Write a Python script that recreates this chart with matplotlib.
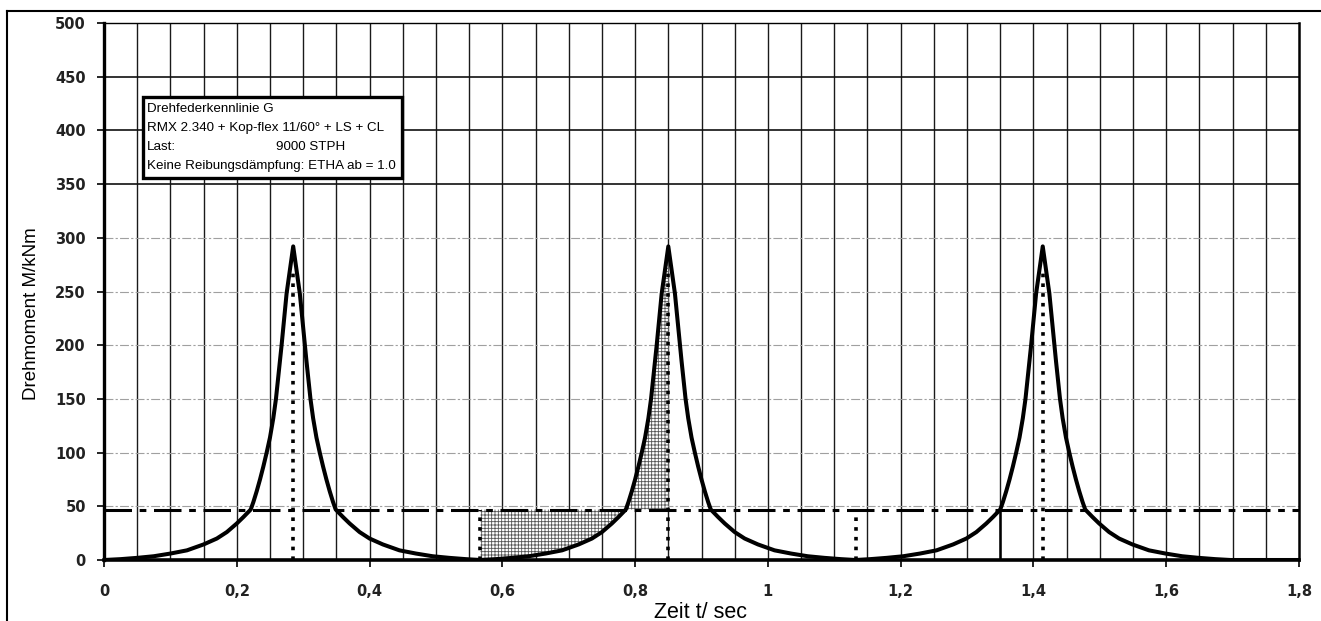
import matplotlib
matplotlib.use("Agg")
import matplotlib.pyplot as plt
from matplotlib.lines import Line2D
from matplotlib.patches import Rectangle
import numpy as np

# ---------------- data ----------------
t_pulse1 = [0.000, 0.025, 0.050, 0.075, 0.100, 0.125, 0.150, 0.170, 0.185, 0.200, 0.210, 0.221,
            0.225, 0.230, 0.235, 0.240, 0.245, 0.250, 0.255, 0.259, 0.265, 0.2675, 0.270,
            0.275, 0.280, 0.285,
            0.290, 0.295, 0.300, 0.3025, 0.305, 0.311, 0.315, 0.320, 0.325, 0.330, 0.335,
            0.340, 0.345, 0.349, 0.360, 0.370, 0.385, 0.400, 0.420, 0.445, 0.470, 0.495,
            0.520, 0.545]
m_pulse1 = [0, 0.8, 2, 3.5, 6, 9, 14.5, 20, 26, 34, 40, 47,
            54, 64, 75, 87, 100, 114, 132, 150, 185, 200, 216,
            248, 270, 292,
            270, 248, 216, 200, 185, 150, 132, 114, 100, 87, 75,
            64, 54, 47, 40, 34, 26, 20, 14.5, 9, 6, 3.5,
            2, 0.8]
t_pulse2 = [0.567, 0.590, 0.615, 0.640, 0.665, 0.690, 0.715, 0.735, 0.750, 0.765, 0.775, 0.786,
            0.790, 0.795, 0.800, 0.805, 0.810, 0.815, 0.820, 0.824, 0.830, 0.8325, 0.835,
            0.840, 0.845, 0.850,
            0.855, 0.860, 0.865, 0.8675, 0.870, 0.876, 0.880, 0.885, 0.890, 0.895, 0.900,
            0.905, 0.910, 0.914, 0.925, 0.935, 0.950, 0.965, 0.985, 1.010, 1.035, 1.060,
            1.085, 1.110]
m_pulse2 = [0, 0.8, 2, 3.5, 6, 9, 14.5, 20, 26, 34, 40, 47,
            54, 64, 75, 87, 100, 114, 132, 150, 185, 200, 216,
            248, 270, 292,
            270, 248, 216, 200, 185, 150, 132, 114, 100, 87, 75,
            64, 54, 47, 40, 34, 26, 20, 14.5, 9, 6, 3.5,
            2, 0.8]
t_pulse3 = [1.132, 1.154, 1.179, 1.204, 1.229, 1.254, 1.279, 1.299, 1.314, 1.329, 1.339, 1.350,
            1.354, 1.359, 1.364, 1.369, 1.374, 1.379, 1.384, 1.388, 1.394, 1.3965, 1.399,
            1.404, 1.409, 1.414,
            1.419, 1.424, 1.429, 1.4315, 1.434, 1.440, 1.444, 1.449, 1.454, 1.459, 1.464,
            1.469, 1.474, 1.478, 1.489, 1.499, 1.514, 1.529, 1.549, 1.574, 1.599, 1.624,
            1.649, 1.674, 1.697, 1.800]
m_pulse3 = [0, 0.8, 2, 3.5, 6, 9, 14.5, 20, 26, 34, 40, 47,
            54, 64, 75, 87, 100, 114, 132, 150, 185, 200, 216,
            248, 270, 292,
            270, 248, 216, 200, 185, 150, 132, 114, 100, 87, 75,
            64, 54, 47, 40, 34, 26, 20, 14.5, 9, 6, 3.5,
            2, 0.8, 0, 0]

threshold = 47                      # dash-dot level
peak_times = [0.285, 0.850, 1.414]  # dotted verticals up to the peaks
peak_marker_height = 272
mid_times = [0.567, 1.132]          # dotted verticals up to the threshold
shade_range = [0.567, 0.850]
step_line_t = 1.35

x_ticks = [0, 0.2, 0.4, 0.6, 0.8, 1.0, 1.2, 1.4, 1.6, 1.8]
x_ticklabels = ["0", "0,2", "0,4", "0,6", "0,8", "1", "1,2", "1,4", "1,6", "1,8"]
y_ticks = [0, 50, 100, 150, 200, 250, 300, 350, 400, 450, 500]

box_lines = ["Drehfederkennlinie G",
             "RMX 2.340 + Kop-flex 11/60\u00b0 + LS + CL",
             "Last:",
             "Keine Reibungsd\u00e4mpfung: ETHA ab = 1.0"]
box_last_value = "9000 STPH"
x_label = "Zeit t/ sec"
y_label = "Drehmoment M/kNm"

# ---------------- figure ----------------
W, H = 1321, 621
fig = plt.figure(figsize=(W / 100, H / 100), dpi=100)
fig.patch.set_facecolor("white")

def fx(px):
    return px / W

def fy(py):
    return 1 - py / H

ax = fig.add_axes([fx(104), fy(560), fx(1299) - fx(104), fy(23) - fy(560)])
ax.set_xlim(0, 1.8)
ax.set_ylim(0, 500)

t_all = np.array(t_pulse1 + t_pulse2 + t_pulse3)
m_all = np.array(m_pulse1 + m_pulse2 + m_pulse3)

# vertical grid every 0.05
for gx in np.arange(0.05, 1.8, 0.05):
    ax.axvline(gx, color="#1a1a1a", lw=1.0, zorder=1)
# horizontal grid
for gy in [50, 100, 150, 200, 250, 300]:
    ax.axhline(gy, color="#a0a0a0", lw=0.8, dashes=(8, 2, 2, 2), zorder=1)
for gy in [350, 400, 450]:
    ax.axhline(gy, color="#111111", lw=1.2, zorder=1)

# shaded (hatched) area between curve and threshold
mask = (t_all >= shade_range[0]) & (t_all <= shade_range[1])
plt.rcParams["hatch.linewidth"] = 0.6
ax.fill_between(t_all[mask], m_all[mask], threshold, facecolor="white",
                edgecolor="#555555", hatch="+++++", lw=0, zorder=2,
                interpolate=True)

# threshold dash-dot line
ax.plot([0, 1.8], [threshold, threshold], color="black", lw=2.2,
        dashes=(9, 2.5, 2.2, 2.5), zorder=3)

# dotted verticals
for pt in peak_times:
    ax.plot([pt, pt], [0, peak_marker_height], color="black", lw=2.6,
            dashes=(1, 1.7), zorder=4)
for mt in mid_times:
    ax.plot([mt, mt], [0, threshold], color="black", lw=2.6,
            dashes=(1, 1.7), zorder=4)
ax.plot([step_line_t, step_line_t], [0, threshold], color="black", lw=1.8, zorder=3)

# main curve
ax.plot(t_all, m_all, color="black", lw=2.9, zorder=5, solid_joinstyle="round")

# spines
ax.spines["left"].set_linewidth(2.4)
ax.spines["bottom"].set_linewidth(2.6)
ax.spines["top"].set_linewidth(1.0)
ax.spines["right"].set_linewidth(1.8)
for s in ax.spines.values():
    s.set_zorder(6)

ax.set_xticks(x_ticks)
ax.set_xticklabels(x_ticklabels)
ax.set_yticks(y_ticks)
ax.set_yticklabels([str(v) for v in y_ticks])
ax.tick_params(axis="both", direction="out", length=5, width=1.2, colors="black",
               labelsize=10.5)
ax.tick_params(axis="x", pad=12)
ax.tick_params(axis="y", pad=8)
for lab in ax.get_xticklabels() + ax.get_yticklabels():
    lab.set_fontweight("bold")
    lab.set_family("DejaVu Sans")
    lab.set_color("#222222")

# axis labels
fig.text(fx(701), fy(618), x_label, ha="center", va="baseline",
         fontsize=15.5, family="Liberation Sans")
fig.text(fx(32), fy(314), y_label, ha="center", va="center", rotation=90,
         fontsize=13.5, family="Liberation Sans")

# text box
bx0, by0, bx1, by1 = 143, 97, 402, 178
fig.add_artist(Rectangle((fx(bx0), fy(by1)), fx(bx1) - fx(bx0), fy(by0) - fy(by1),
                         transform=fig.transFigure, facecolor="white",
                         edgecolor="black", lw=2.4, zorder=10))
line_y = [109, 128, 147, 166]
for txt, yy in zip(box_lines, line_y):
    fig.text(fx(147), fy(yy), txt, ha="left", va="center", fontsize=9.6,
             family="Liberation Sans", zorder=11)
fig.text(fx(276), fy(line_y[2]), box_last_value, ha="left", va="center",
         fontsize=9.6, family="Liberation Sans", zorder=11)

# outer frame (top and left edges)
fig.add_artist(Line2D([fx(7), fx(1321)], [fy(11), fy(11)], transform=fig.transFigure,
                      color="black", lw=1.5))
fig.add_artist(Line2D([fx(7), fx(7)], [fy(11), fy(621)], transform=fig.transFigure,
                      color="black", lw=1.5))

fig.savefig("out.png", dpi=100)
